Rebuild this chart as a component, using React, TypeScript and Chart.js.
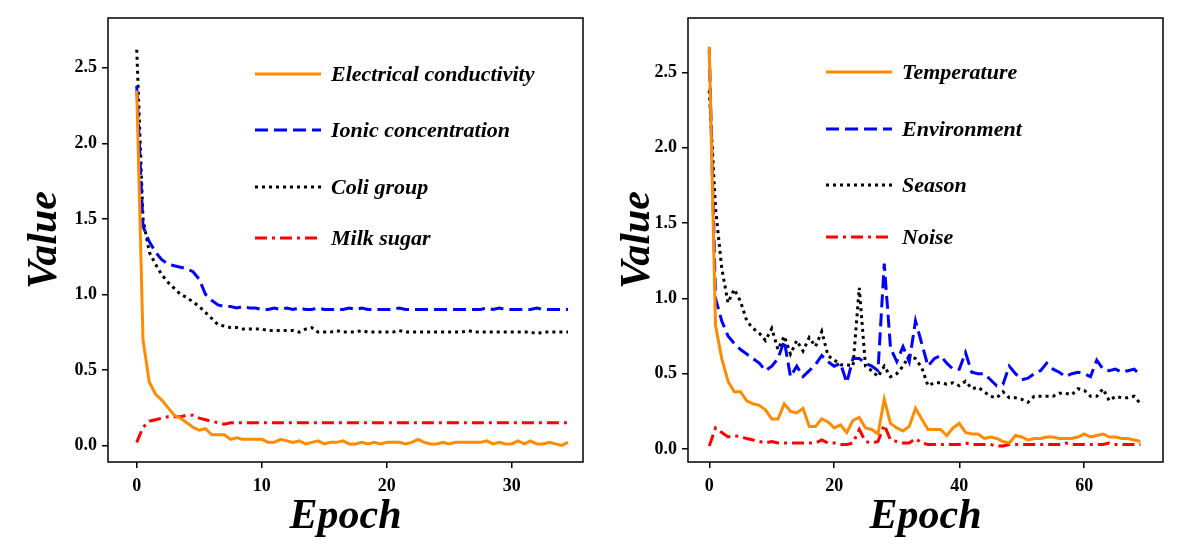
import React, { useEffect, useRef } from "react";
import { Chart, registerables } from "chart.js";
Chart.register(...registerables);

const leftX = Array.from({ length: 70 }, (_, i) => i * 0.5);
const electrical = [2.35,0.7,0.42,0.34,0.3,0.25,0.2,0.18,0.15,0.12,0.1,0.11,0.07,0.07,0.07,0.04,0.05,0.04,0.04,0.04,0.04,0.02,0.02,0.04,0.03,0.02,0.03,0.01,0.02,0.03,0.01,0.02,0.02,0.03,0.01,0.01,0.02,0.01,0.02,0.01,0.02,0.02,0.02,0.01,0.02,0.04,0.02,0.01,0.01,0.02,0.01,0.02,0.02,0.02,0.02,0.02,0.03,0.01,0.02,0.01,0.01,0.03,0.01,0.03,0.01,0.01,0.02,0.01,0.0,0.02];
const ionic = [2.38,1.45,1.35,1.28,1.23,1.2,1.19,1.18,1.17,1.15,1.1,1.0,0.96,0.93,0.92,0.92,0.91,0.92,0.91,0.91,0.9,0.9,0.91,0.9,0.91,0.9,0.91,0.9,0.9,0.91,0.9,0.9,0.9,0.9,0.91,0.9,0.91,0.9,0.9,0.9,0.9,0.9,0.91,0.9,0.9,0.9,0.9,0.9,0.9,0.9,0.9,0.9,0.9,0.9,0.9,0.9,0.91,0.9,0.91,0.9,0.9,0.9,0.9,0.9,0.91,0.9,0.9,0.9,0.9,0.9];
const coli = [2.62,1.5,1.28,1.2,1.13,1.08,1.04,1.0,0.98,0.95,0.92,0.88,0.84,0.8,0.79,0.78,0.78,0.77,0.77,0.77,0.77,0.76,0.76,0.76,0.76,0.76,0.75,0.77,0.78,0.75,0.75,0.75,0.76,0.75,0.75,0.75,0.76,0.75,0.75,0.75,0.75,0.75,0.76,0.75,0.75,0.75,0.75,0.75,0.75,0.75,0.75,0.75,0.75,0.76,0.75,0.75,0.75,0.75,0.75,0.75,0.75,0.75,0.75,0.75,0.74,0.75,0.75,0.75,0.75,0.75];
const milk = [0.02,0.12,0.16,0.17,0.18,0.19,0.19,0.19,0.2,0.2,0.18,0.17,0.16,0.15,0.14,0.15,0.15,0.15,0.15,0.15,0.15,0.15,0.15,0.15,0.15,0.15,0.15,0.15,0.15,0.15,0.15,0.15,0.15,0.15,0.15,0.15,0.15,0.15,0.15,0.15,0.15,0.15,0.15,0.15,0.15,0.15,0.15,0.15,0.15,0.15,0.15,0.15,0.15,0.15,0.15,0.15,0.15,0.15,0.15,0.15,0.15,0.15,0.15,0.15,0.15,0.15,0.15,0.15,0.15,0.15];

const rightX = Array.from({ length: 70 }, (_, i) => i);
const temperature = [2.67,0.82,0.6,0.45,0.38,0.38,0.32,0.3,0.29,0.26,0.2,0.2,0.3,0.25,0.24,0.27,0.15,0.15,0.2,0.18,0.14,0.16,0.11,0.19,0.21,0.14,0.13,0.1,0.33,0.17,0.14,0.12,0.15,0.27,0.2,0.13,0.13,0.13,0.09,0.14,0.17,0.11,0.1,0.1,0.07,0.08,0.07,0.05,0.04,0.09,0.08,0.06,0.07,0.07,0.08,0.08,0.07,0.07,0.07,0.08,0.1,0.08,0.09,0.1,0.08,0.08,0.07,0.07,0.06,0.05];
const environment = [2.65,1.0,0.85,0.75,0.7,0.66,0.63,0.6,0.57,0.52,0.55,0.6,0.72,0.48,0.55,0.48,0.52,0.56,0.62,0.58,0.55,0.57,0.44,0.6,0.6,0.57,0.55,0.52,1.23,0.67,0.58,0.68,0.58,0.85,0.7,0.55,0.6,0.62,0.57,0.53,0.53,0.64,0.51,0.5,0.5,0.46,0.42,0.43,0.55,0.5,0.46,0.47,0.5,0.52,0.57,0.53,0.51,0.48,0.5,0.51,0.5,0.48,0.59,0.53,0.52,0.53,0.51,0.52,0.53,0.49];
const season = [2.38,1.6,1.2,0.97,1.06,0.98,0.85,0.8,0.77,0.72,0.8,0.66,0.75,0.63,0.72,0.65,0.74,0.68,0.78,0.62,0.59,0.56,0.56,0.55,1.07,0.55,0.52,0.48,0.55,0.48,0.5,0.55,0.62,0.6,0.54,0.42,0.44,0.44,0.43,0.44,0.42,0.45,0.4,0.41,0.38,0.35,0.34,0.38,0.34,0.34,0.33,0.31,0.35,0.35,0.35,0.35,0.37,0.37,0.36,0.4,0.39,0.35,0.35,0.4,0.32,0.35,0.34,0.34,0.35,0.3];
const noise = [0.02,0.14,0.11,0.08,0.09,0.08,0.07,0.06,0.05,0.04,0.05,0.04,0.04,0.04,0.04,0.04,0.04,0.04,0.06,0.04,0.04,0.03,0.03,0.04,0.13,0.05,0.04,0.05,0.16,0.06,0.05,0.04,0.04,0.07,0.04,0.03,0.03,0.03,0.03,0.03,0.03,0.04,0.03,0.03,0.03,0.03,0.02,0.02,0.03,0.03,0.03,0.03,0.03,0.03,0.03,0.03,0.03,0.04,0.03,0.03,0.03,0.03,0.03,0.03,0.04,0.03,0.03,0.03,0.03,0.03];

const leftNames = ["Electrical conductivity", "Ionic concentration", "Coli group", "Milk sugar"];
const rightNames = ["Temperature", "Environment", "Season", "Noise"];
const yTicks = [0, 0.5, 1, 1.5, 2, 2.5];
const leftXTicks = [0, 10, 20, 30];
const rightXTicks = [0, 20, 40, 60];

const styles = [
  { color: "#ff8c00", dash: [] as number[] },
  { color: "#0000ff", dash: [13, 6] },
  { color: "#000000", dash: [3, 4] },
  { color: "#ff0000", dash: [12, 5, 3, 5] },
];

const serif = "'Liberation Serif', 'DejaVu Serif', serif";

function makeChart(canvas: HTMLCanvasElement, cfg: any) {
  const { xs, series, names, xTicks, xMin, xMax, yMin, yMax, padL, padR, legendX, legendYs } = cfg;
  const framePlugin = {
    id: "frame",
    afterDraw(chart: any) {
      const { ctx, chartArea: a } = chart;
      ctx.save();
      ctx.strokeStyle = "#000";
      ctx.lineWidth = 1.5;
      ctx.setLineDash([]);
      ctx.strokeRect(a.left, a.top, a.right - a.left, a.bottom - a.top);
      names.forEach((n: string, i: number) => {
        const y = legendYs[i];
        ctx.strokeStyle = styles[i].color;
        ctx.lineWidth = 3;
        ctx.setLineDash(styles[i].dash);
        ctx.beginPath();
        ctx.moveTo(legendX - padL, y);
        ctx.lineTo(legendX - padL + 66, y);
        ctx.stroke();
        ctx.setLineDash([]);
        ctx.fillStyle = "#000";
        ctx.font = `italic bold 22px ${serif}`;
        ctx.textBaseline = "middle";
        ctx.fillText(n, legendX - padL + 76, y + 1);
      });
      ctx.restore();
    },
  };
  return new Chart(canvas, {
    type: "line",
    data: {
      datasets: series.map((s: number[], i: number) => ({
        label: names[i],
        data: s.map((v, j) => ({ x: xs[j], y: v })),
        borderColor: styles[i].color,
        borderDash: styles[i].dash,
        borderWidth: 3,
        pointRadius: 0,
        tension: 0,
        fill: false,
      })),
    },
    options: {
      responsive: false,
      animation: false,
      events: [],
      layout: { padding: { top: 18, right: padR, left: 0, bottom: 0 } },
      plugins: { legend: { display: false }, tooltip: { enabled: false } },
      scales: {
        x: {
          type: "linear",
          min: xMin,
          max: xMax,
          afterBuildTicks: (s: any) => { s.ticks = xTicks.map((v: number) => ({ value: v })); },
          afterFit: (s: any) => { s.height = 94; },
          grid: { drawOnChartArea: false, tickLength: 6, color: "#000", lineWidth: 1.5 },
          border: { display: false },
          ticks: { color: "#000", font: { family: serif, size: 18, weight: "bold" }, padding: 8, maxRotation: 0 },
          title: { display: true, text: "Epoch", color: "#000", font: { family: serif, size: 42, weight: "bold", style: "italic" }, padding: { top: 0, bottom: 14 } },
        },
        y: {
          min: yMin,
          max: yMax,
          afterBuildTicks: (s: any) => { s.ticks = yTicks.map((v) => ({ value: v })); },
          afterFit: (s: any) => { s.width = padL; },
          grid: { drawOnChartArea: false, tickLength: 6, color: "#000", lineWidth: 1.5 },
          border: { display: false },
          ticks: { color: "#000", font: { family: serif, size: 18, weight: "bold" }, padding: 5, callback: (v: any) => Number(v).toFixed(1) },
          title: { display: true, text: "Value", color: "#000", font: { family: serif, size: 42, weight: "bold", style: "italic" }, padding: { top: 20, bottom: 0 } },
        },
      },
    },
    plugins: [framePlugin],
  } as any);
}

export default function App() {
  const l = useRef<HTMLCanvasElement>(null);
  const r = useRef<HTMLCanvasElement>(null);
  useEffect(() => {
    const c1 = makeChart(l.current!, {
      xs: leftX, series: [electrical, ionic, coli, milk], names: leftNames, xTicks: leftXTicks,
      xMin: -2.3, xMax: 35.7, yMin: -0.11, yMax: 2.83, padL: 108, padR: 10,
      legendX: 255 + 108, legendYs: [74, 130, 187, 238],
    });
    const c2 = makeChart(r.current!, {
      xs: rightX, series: [temperature, environment, season, noise], names: rightNames, xTicks: rightXTicks,
      xMin: -3.4, xMax: 72.6, yMin: -0.086, yMax: 2.86, padL: 95, padR: 23,
      legendX: 826 - 593 + 95, legendYs: [72, 129, 185, 237],
    });
    return () => { c1.destroy(); c2.destroy(); };
  }, []);
  return (
    <div style={{ position: "fixed", left: 0, top: 0, width: 1186, height: 556, background: "#fff" }}>
      <canvas ref={l} width={593} height={556} style={{ position: "absolute", left: 0, top: 0 }} />
      <canvas ref={r} width={593} height={556} style={{ position: "absolute", left: 593, top: 0 }} />
    </div>
  );
}
